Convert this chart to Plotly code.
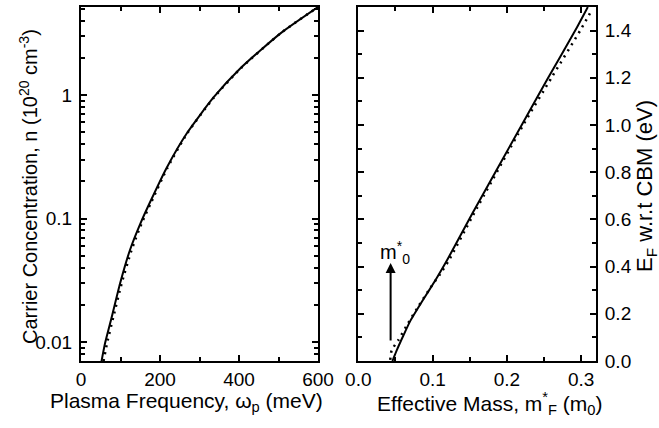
import plotly.graph_objects as go

# Left panel: carrier concentration vs plasma frequency
wp_solid = [52, 61, 78, 99, 124, 150, 175, 217, 268, 336, 403, 505, 600]
n_solid = [0.007, 0.0098, 0.016, 0.0299, 0.0556, 0.0905, 0.136, 0.258, 0.49, 0.96, 1.64, 3.16, 5.16]
wp_dot = [57, 66, 82, 103, 128, 153, 178, 219, 269, 337, 404, 505, 600]
n_dot = [0.007, 0.0098, 0.016, 0.0299, 0.0556, 0.0905, 0.136, 0.258, 0.49, 0.96, 1.64, 3.16, 5.16]

# Right panel: Fermi energy vs effective mass
m_solid = [0.046, 0.0475, 0.052, 0.061, 0.070, 0.081, 0.093, 0.106, 0.120, 0.1535, 0.220, 0.2556, 0.292, 0.309]
e_solid = [0.0, 0.012, 0.047, 0.110, 0.170, 0.228, 0.288, 0.354, 0.430, 0.625, 1.0, 1.2, 1.4, 1.5]
m_dot = [0.043, 0.045, 0.054, 0.067, 0.081, 0.097, 0.1105, 0.122, 0.154, 0.222, 0.261, 0.300, 0.313]
e_dot = [0.005, 0.0465, 0.089, 0.160, 0.232, 0.310, 0.370, 0.427, 0.615, 1.0, 1.205, 1.407, 1.48]

arrow_m = 0.0435
arrow_e = [0.08, 0.415]

FONT = "Liberation Sans, Arial, sans-serif"
TICK = 19

fig = go.Figure()
solid = dict(color="black", width=2, shape="spline", smoothing=0.6)
dotted = dict(color="black", width=2.5, dash="2px,5px", shape="spline", smoothing=0.6)
fig.add_trace(go.Scatter(x=wp_solid, y=n_solid, mode="lines", line=solid, xaxis="x", yaxis="y", showlegend=False))
fig.add_trace(go.Scatter(x=wp_dot, y=n_dot, mode="lines", line=dotted, xaxis="x", yaxis="y", showlegend=False))
fig.add_trace(go.Scatter(x=m_solid, y=e_solid, mode="lines", line=solid, xaxis="x2", yaxis="y2", showlegend=False))
fig.add_trace(go.Scatter(x=m_dot, y=e_dot, mode="lines", line=dotted, xaxis="x2", yaxis="y2", showlegend=False))

axis_common = dict(showline=True, linecolor="black", linewidth=2, mirror="ticks", ticks="inside",
                   ticklen=6, tickwidth=2, tickcolor="black", showgrid=False, zeroline=False,
                   automargin=False,
                   tickfont=dict(family=FONT, size=TICK, color="black"))
minor_common = dict(ticks="inside", ticklen=4, tickwidth=2, tickcolor="black", showgrid=False)

fig.update_layout(
    width=659, height=428,
    margin=dict(l=0, r=0, t=0, b=0, autoexpand=False),
    paper_bgcolor="white", plot_bgcolor="white",
    font=dict(family=FONT, size=TICK, color="black"),
    xaxis=dict(domain=[81 / 659, 318 / 659], range=[0, 600], tickvals=[0, 200, 400, 600],
               minor=dict(tickvals=[100, 300, 500], **minor_common),
               ticklabelstandoff=0, anchor="y", **axis_common),
    yaxis=dict(domain=[1 - 361 / 428, 1 - 7 / 428], type="log", range=[-2.154, 0.713],
               tickvals=[0.01, 0.1, 1], ticktext=["0.01", "0.1", "1"],
               minor=dict(tickvals=[0.008, 0.009, 0.02, 0.03, 0.04, 0.05, 0.06, 0.07, 0.08, 0.09,
                                    0.2, 0.3, 0.4, 0.5, 0.6, 0.7, 0.8, 0.9, 2, 3, 4, 5], **minor_common),
               ticklabelstandoff=3, anchor="x", **axis_common),
    xaxis2=dict(domain=[358.3 / 659, 596 / 659], range=[0, 0.32], tickvals=[0, 0.1, 0.2, 0.3], tickformat=".1f",
                minor=dict(tickvals=[0.05, 0.15, 0.25], **minor_common),
                ticklabelstandoff=0, anchor="y2", **axis_common),
    yaxis2=dict(domain=[1 - 361 / 428, 1 - 7 / 428], range=[0, 1.5], side="right",
                tickvals=[0, 0.2, 0.4, 0.6, 0.8, 1.0, 1.2, 1.4], tickformat=".1f",
                minor=dict(tickvals=[0.1, 0.3, 0.5, 0.7, 0.9, 1.1, 1.3], **minor_common),
                ticklabelstandoff=3, anchor="x2", **axis_common),
)

# Axis titles
def tf(size):
    return dict(family=FONT, size=size, color="black")

fig.add_annotation(x=186 / 659, y=1 - 402 / 428, xref="paper", yref="paper", showarrow=False,
                   text="Plasma Frequency, ω<sub>p</sub> (meV)", font=tf(21), xanchor="center", yanchor="middle")
fig.add_annotation(x=490 / 659, y=1 - 403 / 428, xref="paper", yref="paper", showarrow=False,
                   text="Effective Mass, m<sup>*</sup><sub>F</sub> (m<sub>0</sub>)", font=tf(21),
                   xanchor="center", yanchor="middle")
fig.add_annotation(x=28 / 659, y=1 - 187 / 428, xref="paper", yref="paper", showarrow=False, textangle=-90,
                   text="Carrier Concentration, n (10<sup>20</sup> cm<sup>-3</sup>)", font=tf(20),
                   xanchor="center", yanchor="middle")
fig.add_annotation(x=646 / 659, y=1 - 186 / 428, xref="paper", yref="paper", showarrow=False, textangle=-90,
                   text="E<sub>F</sub> w.r.t CBM (eV)", font=tf(22), xanchor="center", yanchor="middle")

# Arrow marking m*_0
fig.add_annotation(x=arrow_m, y=arrow_e[1], ax=arrow_m, ay=arrow_e[0], xref="x2", yref="y2", axref="x2", ayref="y2",
                   showarrow=True, arrowhead=2, arrowsize=1, arrowwidth=2, arrowcolor="black", text="")
fig.add_annotation(x=0.049, y=0.46, xref="x2", yref="y2", showarrow=False,
                   text="m<sup>*</sup><sub>0</sub>", font=tf(20))

fig.write_html("out.html")
